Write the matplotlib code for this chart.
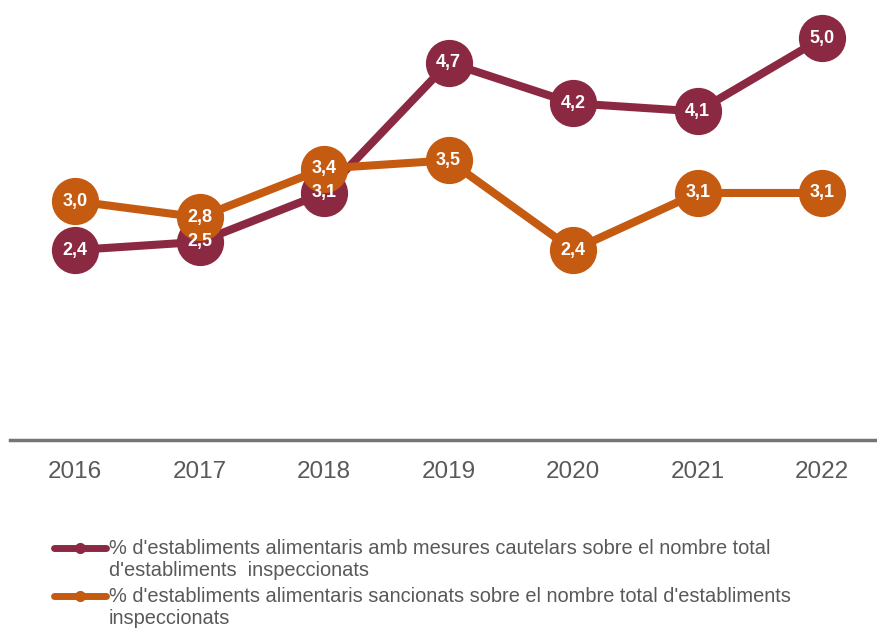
import matplotlib.pyplot as plt
from matplotlib.lines import Line2D

plt.rcParams['font.family'] = ['Liberation Sans', 'DejaVu Sans']

years = [2016, 2017, 2018, 2019, 2020, 2021, 2022]
mesures = [2.4, 2.5, 3.1, 4.7, 4.2, 4.1, 5.0]
sancionats = [3.0, 2.8, 3.4, 3.5, 2.4, 3.1, 3.1]

label_mesures = "% d'establiments alimentaris amb mesures cautelars sobre el nombre total\nd'establiments  inspeccionats"
label_sancionats = "% d'establiments alimentaris sancionats sobre el nombre total d'establiments\ninspeccionats"

c_mesures = '#8B2942'
c_sancionats = '#C55A11'
grey = '#595959'

W, H = 877, 628
fig = plt.figure(figsize=(W / 100, H / 100), dpi=100)
# axes from x=10px to the right edge, bottom on the axis line at y=440px
ax = fig.add_axes([10 / W, (H - 440) / H, 1 - 10 / W, 440 / H])
ax.set_xlim(2015.478, 2022.44)
ax.set_ylim(0.069, 0.069 + 440 / 81.5)

for vals, col in [(mesures, c_mesures), (sancionats, c_sancionats)]:
    ax.plot(years, vals, color=col, lw=5.8, marker='o', ms=34,
            markeredgewidth=0, solid_capstyle='round')
    for x, v in zip(years, vals):
        ax.text(x, v, f'{v:.1f}'.replace('.', ','), color='white',
                fontsize=13, fontweight='bold', ha='center', va='center')

for s in ['top', 'right', 'left']:
    ax.spines[s].set_visible(False)
ax.spines['bottom'].set_color('#757575')
ax.spines['bottom'].set_linewidth(2.5)
ax.set_yticks([])
ax.set_xticks(years)
ax.set_xticklabels([str(y) for y in years], fontsize=17.5, color=grey)
ax.tick_params(axis='x', length=0, pad=15)

# legend drawn by hand so the key sits on the first line of each label
def px(x, y):
    return x / W, 1 - y / H

for label, col, y in [(label_mesures, c_mesures, 548), (label_sancionats, c_sancionats, 596)]:
    x0, yy = px(54, y)
    x1, _ = px(106, y)
    xm, _ = px(80, y)
    fig.add_artist(Line2D([x0, x1], [yy, yy], transform=fig.transFigure,
                          color=col, lw=5, solid_capstyle='round'))
    fig.add_artist(Line2D([xm], [yy], transform=fig.transFigure,
                          color=col, marker='o', ms=7))
    tx, ty = px(109, y - 9)
    fig.text(tx, ty, label, fontsize=14.4, color=grey, ha='left', va='top',
             linespacing=1.22)

fig.savefig('out.png', dpi=100)
